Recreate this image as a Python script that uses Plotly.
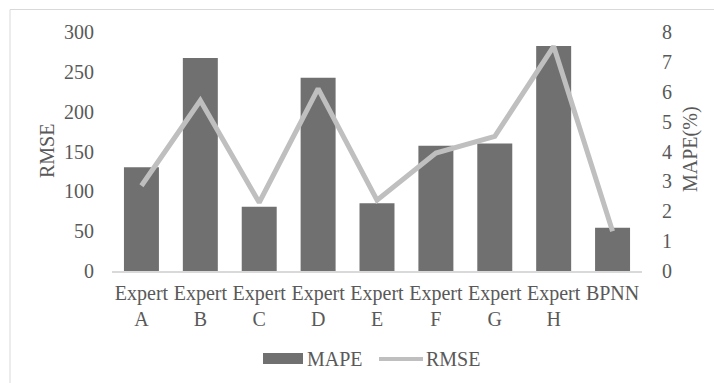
import plotly.graph_objects as go

# Model names and error metrics
categories = ["Expert A", "Expert B", "Expert C", "Expert D", "Expert E",
              "Expert F", "Expert G", "Expert H", "BPNN"]
tick_labels = ["Expert<br>A", "Expert<br>B", "Expert<br>C", "Expert<br>D", "Expert<br>E",
               "Expert<br>F", "Expert<br>G", "Expert<br>H", "BPNN"]
mape = [3.47, 7.13, 2.15, 6.47, 2.27, 4.19, 4.27, 7.53, 1.45]      # %
rmse = [107, 214, 86, 229, 89, 148, 169, 282, 50]

rmse_ticks = [0, 50, 100, 150, 200, 250, 300]
mape_ticks = [0, 1, 2, 3, 4, 5, 6, 7, 8]

FONT = "Liberation Serif"
TEXT = "#595959"
BAR = "#707070"
LINE = "#bfbfbf"

W, H = 714, 383
L, R, T, B = 112, 642, 32, 271   # plot-area edges in pixels


def px(x):
    return (x - L) / (R - L)


def py(y):
    return (B - y) / (B - T)


def f(size=20):
    return dict(family=FONT, size=size, color=TEXT)


fig = go.Figure()

fig.add_trace(go.Bar(
    x=categories, y=mape, name="MAPE", yaxis="y",
    marker=dict(color=BAR, line=dict(width=0)),
))
fig.add_trace(go.Scatter(
    x=categories, y=rmse, name="RMSE", yaxis="y2", mode="lines",
    line=dict(color=LINE, width=5),
))

fig.update_layout(
    width=W, height=H,
    margin=dict(l=L, r=W - R, t=T, b=H - B),
    paper_bgcolor="white", plot_bgcolor="white",
    font=f(),
    showlegend=False,
    bargap=0.406,
    xaxis=dict(
        tickvals=categories, ticktext=tick_labels,
        showline=True, linecolor="#d9d9d9", linewidth=1.5,
        showgrid=False, ticks="", ticklabelstandoff=3,
        tickfont=f(),
    ),
    yaxis=dict(
        side="right", range=[0, 8], tickvals=mape_ticks,
        showgrid=False, zeroline=False, showline=False, ticks="",
        ticklabelstandoff=19, tickfont=f(),
    ),
    yaxis2=dict(
        side="left", overlaying="y", range=[0, 300], tickvals=rmse_ticks,
        showgrid=False, zeroline=False, showline=False, ticks="",
        ticklabelstandoff=17, tickfont=f(),
    ),
)

# Axis titles
fig.add_annotation(text="RMSE", xref="paper", yref="paper", x=px(47), y=py(151),
                   textangle=-90, showarrow=False, font=f(),
                   xanchor="center", yanchor="middle")
fig.add_annotation(text="MAPE(%)", xref="paper", yref="paper", x=px(690), y=py(149),
                   textangle=-90, showarrow=False, font=f(),
                   xanchor="center", yanchor="middle")

# Legend drawn below the plot
fig.add_shape(type="rect", xref="paper", yref="paper",
              x0=px(263), x1=px(303), y0=py(364), y1=py(353),
              fillcolor=BAR, line=dict(width=0))
fig.add_annotation(text="MAPE", xref="paper", yref="paper", x=px(305), y=py(358.5),
                   showarrow=False, xanchor="left", yanchor="middle", font=f())
fig.add_shape(type="line", xref="paper", yref="paper",
              x0=px(379), x1=px(423), y0=py(359), y1=py(359),
              line=dict(color=LINE, width=4))
fig.add_annotation(text="RMSE", xref="paper", yref="paper", x=px(424), y=py(358.5),
                   showarrow=False, xanchor="left", yanchor="middle", font=f())

# Chart-area border
fig.add_shape(type="rect", xref="paper", yref="paper",
              x0=px(10), x1=px(720), y0=py(390), y1=py(9.5),
              line=dict(color="#d9d9d9", width=1), fillcolor="rgba(0,0,0,0)",
              layer="below")

fig.write_html("out.html")
